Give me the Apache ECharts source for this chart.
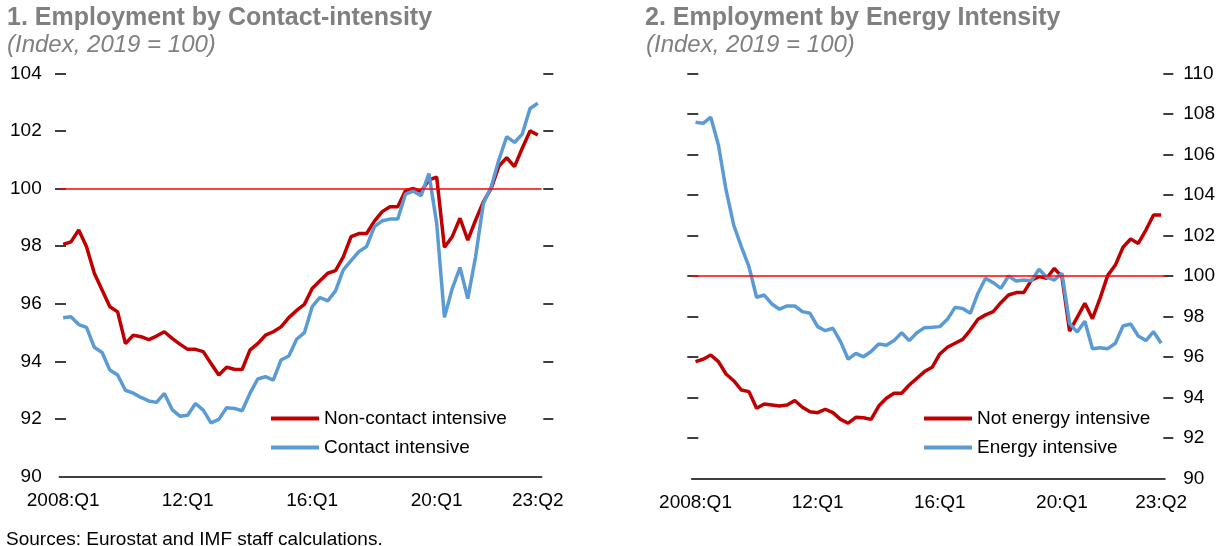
<!DOCTYPE html>
<html>
<head>
<meta charset="utf-8">
<title>Employment by Contact-intensity and Energy Intensity</title>
<script src="https://cdn.jsdelivr.net/npm/echarts@6/dist/echarts.min.js"></script>
<style>
  html, body { margin: 0; padding: 0; background: #fff; }
  #chart { width: 1225px; height: 546px; }
</style>
</head>
<body>
<div id="chart"></div>
<script>
const FONT = "'Liberation Sans', Arial, sans-serif";

// quarters 2008:Q1 .. 2023:Q2
const quarters = [];
for (let y = 2008; y <= 2023; y++) {
  for (let q = 1; q <= 4; q++) {
    if (y === 2023 && q > 2) break;
    quarters.push(`${y}:Q${q}`);
  }
}

const tickIndex = [0, 16, 32, 48];
const labelIndex = [0, 16, 32, 48, 61];
const labelText = ["2008:Q1", "12:Q1", "16:Q1", "20:Q1", "23:Q2"];

const leftTicks = [92, 94, 96, 98, 100, 102, 104];
const rightTicks = [92, 94, 96, 98, 100, 102, 104, 106, 108, 110];

const nonContact = [
  98.06, 98.15, 98.56, 97.98, 97.06, 96.48, 95.9, 95.72, 94.62, 94.91,
  94.86, 94.76, 94.88, 95.03, 94.8, 94.6, 94.42, 94.42, 94.34, 93.93,
  93.53, 93.8, 93.73, 93.72, 94.39, 94.62, 94.91, 95.03, 95.2, 95.52,
  95.77, 95.98, 96.53, 96.8, 97.06, 97.15, 97.63, 98.33, 98.44, 98.44,
  98.87, 99.2, 99.37, 99.37, 99.93, 100.0, 99.9, 100.3, 100.4, 97.96,
  98.33, 98.97, 98.21, 98.9, 99.54, 100.0, 100.78, 101.07, 100.76, 101.4,
  102.0, 101.86,
];
const contact = [
  95.52, 95.55, 95.28, 95.18, 94.49, 94.31, 93.7, 93.53, 93.0, 92.9,
  92.75, 92.63, 92.58, 92.89, 92.33, 92.1, 92.13, 92.54, 92.31, 91.87,
  91.99, 92.39, 92.37, 92.29, 92.89, 93.39, 93.47, 93.35, 94.05, 94.19,
  94.77, 95.0, 95.9, 96.22, 96.1, 96.45, 97.18, 97.5, 97.81, 97.99,
  98.68, 98.88, 98.94, 98.94, 99.81, 99.91, 99.75, 100.52, 98.8, 95.53,
  96.53, 97.26, 96.18, 97.63, 99.48, 100.05, 101.0, 101.8, 101.6, 101.89,
  102.78, 102.96,
];
const notEnergy = [
  95.76, 95.88, 96.09, 95.76, 95.15, 94.82, 94.36, 94.28, 93.46, 93.67,
  93.62, 93.57, 93.62, 93.84, 93.51, 93.29, 93.24, 93.41, 93.24, 92.91,
  92.72, 93.01, 92.99, 92.91, 93.57, 93.95, 94.2, 94.2, 94.61, 94.94,
  95.27, 95.48, 96.14, 96.47, 96.67, 96.86, 97.32, 97.85, 98.07, 98.23,
  98.67, 99.05, 99.17, 99.17, 99.79, 99.96, 99.88, 100.37, 99.95, 97.27,
  97.95, 98.64, 97.88, 98.9, 100.02, 100.53, 101.41, 101.82, 101.6, 102.26,
  103.0, 103.0,
];
const energy = [
  107.58, 107.53, 107.83, 106.46, 104.24, 102.51, 101.44, 100.45, 98.94, 99.05,
  98.61, 98.35, 98.51, 98.51, 98.23, 98.15, 97.49, 97.29, 97.41, 96.75,
  95.88, 96.17, 96.0, 96.26, 96.63, 96.57, 96.8, 97.19, 96.8, 97.19,
  97.44, 97.46, 97.49, 97.85, 98.44, 98.39, 98.15, 99.14, 99.88, 99.66,
  99.38, 99.99, 99.74, 99.79, 99.76, 100.32, 99.93, 99.79, 100.12, 97.65,
  97.22, 97.76, 96.4, 96.45, 96.4, 96.67, 97.52, 97.62, 97.03, 96.8,
  97.24, 96.67,
];

const RED = "#C00000";
const BLUE = "#5B9BD5";
const GREY = "#808080";

const chart = echarts.init(document.querySelector("#chart"));

function xAxis(gridIndex) {
  return {
    type: "category",
    gridIndex,
    data: quarters,
    boundaryGap: true,
    axisLine: { lineStyle: { color: "#000", width: 1.5 } },
    axisTick: {
      inside: true,
      length: 5,
      interval: (index) => tickIndex.includes(index),
      lineStyle: { color: "#000", width: 1.5 },
    },
    axisLabel: {
      interval: (index) => labelIndex.includes(index),
      formatter: (value, index) => labelText[labelIndex.indexOf(index)] || "",
      color: "#000",
      fontSize: 19,
      fontFamily: FONT,
      margin: 15,
    },
    splitLine: { show: false },
  };
}

function yAxis(gridIndex, position, max, ticks, offset, tickLength, label, margin) {
  return {
    type: "value",
    gridIndex,
    position,
    min: 90,
    max,
    interval: 2,
    offset,
    axisLine: { show: false },
    axisTick: {
      show: true,
      length: tickLength,
      customValues: ticks,
      lineStyle: { color: "#000", width: 1.5 },
    },
    axisLabel: {
      show: label,
      color: "#000",
      fontSize: 19,
      fontFamily: FONT,
      margin,
    },
    splitLine: { show: false },
  };
}

function refLine() {
  return {
    silent: true,
    symbol: ["none", "none"],
    label: { show: false },
    lineStyle: { color: "#FF0000", width: 1.5, type: "solid" },
    data: [{ yAxis: 100 }],
  };
}

function lineSeries(name, data, color, xi, yi, withRef) {
  const s = {
    name,
    type: "line",
    xAxisIndex: xi,
    yAxisIndex: yi,
    data,
    symbol: "none",
    lineStyle: { color, width: 3.5 },
    itemStyle: { color },
  };
  if (withRef) s.markLine = refLine();
  return s;
}

function legend(left, names) {
  return {
    orient: "vertical",
    left,
    top: 409,
    padding: 0,
    itemWidth: 48,
    itemHeight: 4,
    itemGap: 10,
    icon: "rect",
    data: names,
    textStyle: { color: "#000", fontSize: 19, fontFamily: FONT, lineHeight: 19 },
  };
}

function text(x, y, str, font, fill) {
  return {
    type: "text",
    x,
    y,
    style: { text: str, font, fill, textVerticalAlign: "middle" },
  };
}

chart.setOption({
  animation: false,
  grid: [
    { left: 59.3, top: 73.3, width: 482.4, height: 403.4, outerBoundsMode: "none" },
    { left: 691.7, top: 73.3, width: 473.3, height: 405, outerBoundsMode: "none" },
  ],
  xAxis: [xAxis(0), xAxis(1)],
  yAxis: [
    yAxis(0, "left", 104, leftTicks, -6.7, 11, true, 24.3),
    yAxis(0, "right", 104, leftTicks, 1.6, 10, false, 8),
    yAxis(1, "left", 110, rightTicks, -6.6, 11, false, 8),
    yAxis(1, "right", 110, rightTicks, -1.7, 10, true, 20),
  ],
  legend: [
    legend(271, ["Non-contact intensive", "Contact intensive"]),
    legend(924, ["Not energy intensive", "Energy intensive"]),
  ],
  graphic: [
    text(7, 18, "1. Employment by Contact-intensity", `bold 25px ${FONT}`, GREY),
    text(7, 45, "(Index, 2019 = 100)", `italic 24px ${FONT}`, GREY),
    text(645, 18, "2. Employment by Energy Intensity", `bold 25px ${FONT}`, GREY),
    text(646, 45, "(Index, 2019 = 100)", `italic 24px ${FONT}`, GREY),
    text(6, 540, "Sources: Eurostat and IMF staff calculations.", `19px ${FONT}`, "#000"),
  ],
  series: [
    lineSeries("Non-contact intensive", nonContact, RED, 0, 0, true),
    lineSeries("Contact intensive", contact, BLUE, 0, 0, false),
    lineSeries("Not energy intensive", notEnergy, RED, 1, 3, true),
    lineSeries("Energy intensive", energy, BLUE, 1, 3, false),
  ],
});
</script>
</body>
</html>
